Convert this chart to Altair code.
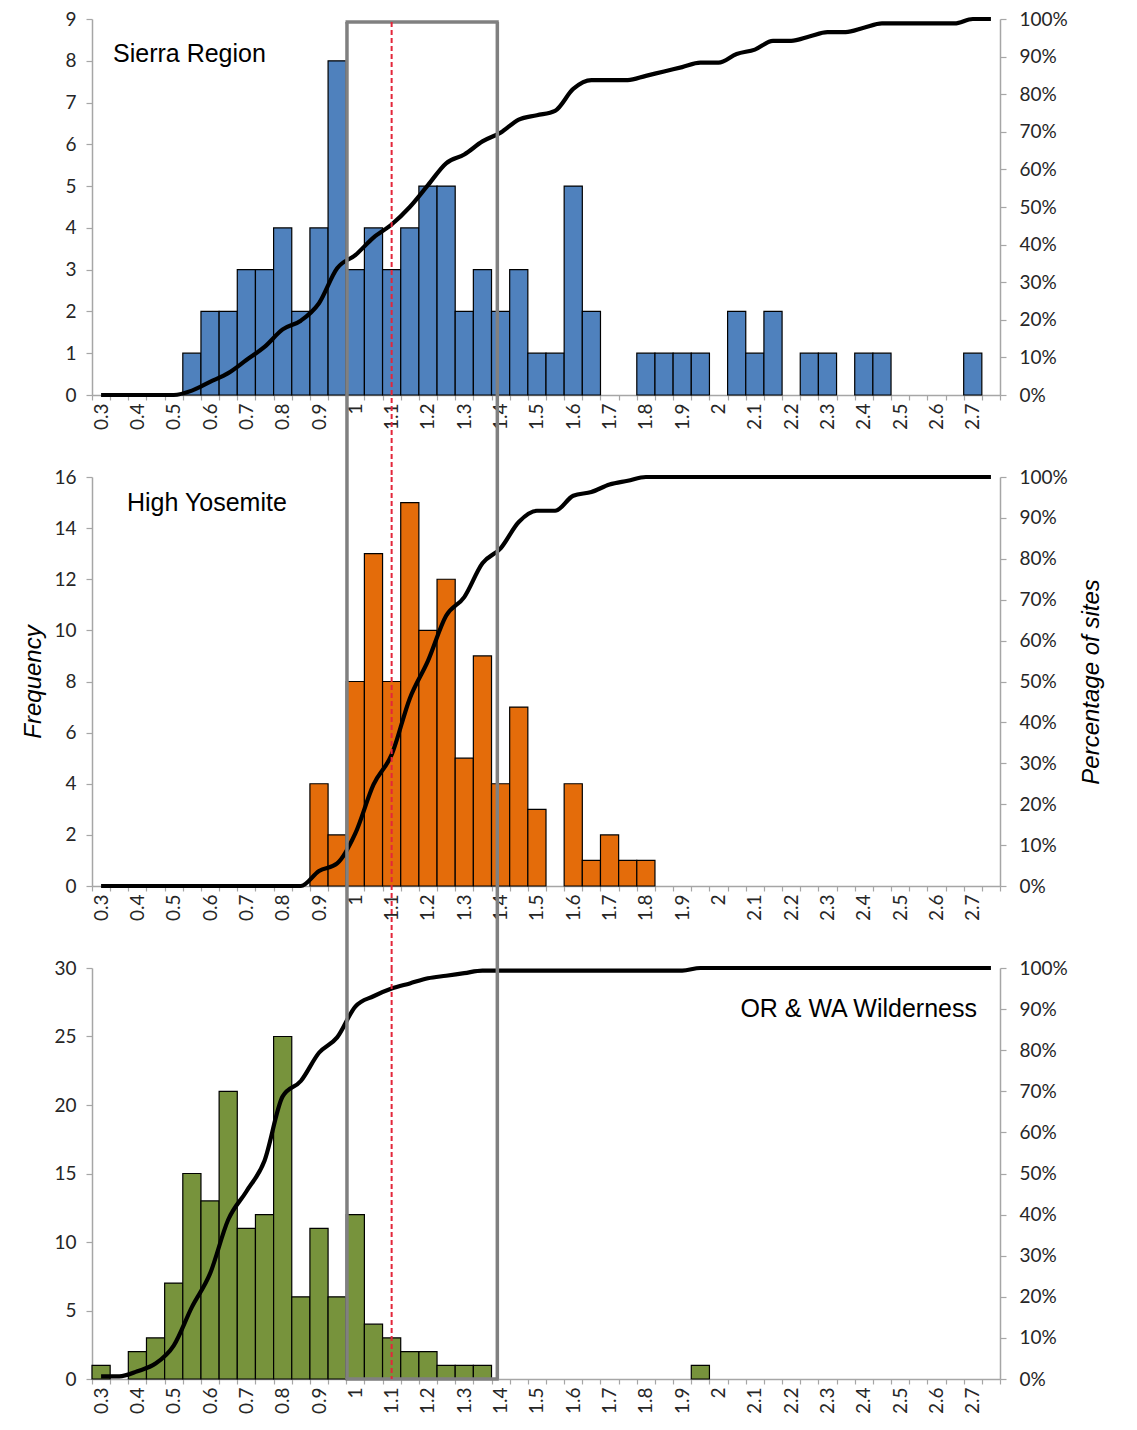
import json
import altair as alt
import pandas as pd

# ---------------- data ----------------
categories = [0.30, 0.35, 0.40, 0.45, 0.50, 0.55, 0.60, 0.65, 0.70, 0.75,
              0.80, 0.85, 0.90, 0.95, 1.00, 1.05, 1.10, 1.15, 1.20, 1.25,
              1.30, 1.35, 1.40, 1.45, 1.50, 1.55, 1.60, 1.65, 1.70, 1.75,
              1.80, 1.85, 1.90, 1.95, 2.00, 2.05, 2.10, 2.15, 2.20, 2.25,
              2.30, 2.35, 2.40, 2.45, 2.50, 2.55, 2.60, 2.65, 2.70, 2.75]
sierra_counts = [0, 0, 0, 0, 0, 1, 2, 2, 3, 3,
                 4, 2, 4, 8, 3, 4, 3, 4, 5, 5,
                 2, 3, 2, 3, 1, 1, 5, 2, 0, 0,
                 1, 1, 1, 1, 0, 2, 1, 2, 0, 1,
                 1, 0, 1, 1, 0, 0, 0, 0, 1, 0]
yosemite_counts = [0, 0, 0, 0, 0, 0, 0, 0, 0, 0,
                   0, 0, 4, 2, 8, 13, 8, 15, 10, 12,
                   5, 9, 4, 7, 3, 0, 4, 1, 2, 1,
                   1, 0, 0, 0, 0, 0, 0, 0, 0, 0,
                   0, 0, 0, 0, 0, 0, 0, 0, 0, 0]
orwa_counts = [1, 0, 2, 3, 7, 15, 13, 21, 11, 12,
               25, 6, 11, 6, 12, 4, 3, 2, 2, 1,
               1, 1, 0, 0, 0, 0, 0, 0, 0, 0,
               0, 0, 0, 1, 0, 0, 0, 0, 0, 0,
               0, 0, 0, 0, 0, 0, 0, 0, 0, 0]
x_tick_labels = ["0.3", "0.4", "0.5", "0.6", "0.7", "0.8", "0.9", "1", "1.1",
                 "1.2", "1.3", "1.4", "1.5", "1.6", "1.7", "1.8", "1.9", "2",
                 "2.1", "2.2", "2.3", "2.4", "2.5", "2.6", "2.7"]
pct_ticks = [0, 0.1, 0.2, 0.3, 0.4, 0.5, 0.6, 0.7, 0.8, 0.9, 1.0]
box_x = [0.977, 1.391]      # grey box edges
threshold_x = [1.10]        # red dashed line

# ---------------- layout ----------------
W = 908
HEIGHTS = [376, 409, 411]
GAP = 82
HALF = 0.025

boundaries = [round(categories[0] - HALF + 0.05 * i, 3) for i in range(len(categories) + 1)]
label_arr = []
for i in range(len(categories) + 1):
    if i % 2 == 0 and i // 2 < len(x_tick_labels):
        label_arr.append(x_tick_labels[i // 2])
    else:
        label_arr.append("")
label_expr = f"{json.dumps(label_arr)}[round((datum.value - {boundaries[0]}) / 0.05)]"

xscale = alt.Scale(domain=[boundaries[0], boundaries[-1]], nice=False, zero=False)
xaxis = alt.Axis(values=boundaries, labelExpr=label_expr, labelAngle=270,
                 labelOffset=W / len(categories) / 2, labelOverlap=False,
                 labelFlush=False, labelPadding=3, tickSize=5, title=None,
                 labelAlign="right", labelBaseline="middle")

AXIS_GREY = "#A6A6A6"
BOX_GREY = "#808080"


def panel(counts, color, ymax, ystep, H, name, name_x, name_y, name_align,
          left_title, right_title, rule_top, rule_bottom, top_edge, bottom_edge):
    df = pd.DataFrame({"cat": categories, "count": counts})
    base = alt.Chart(df).transform_calculate(lo=f"datum.cat - {HALF}", hi=f"datum.cat + {HALF}")

    yaxis_l = alt.Axis(values=list(range(0, ymax + 1, ystep)), orient="left",
                       tickSize=6, labelPadding=10, title=left_title, titlePadding=8)
    bars = base.transform_filter("datum.count > 0").mark_bar(
        color=color, stroke="black", strokeWidth=1.2
    ).encode(
        x=alt.X("lo:Q", scale=xscale, axis=xaxis),
        x2="hi:Q",
        y=alt.Y("count:Q", scale=alt.Scale(domain=[0, ymax], nice=False), axis=yaxis_l),
        y2=alt.datum(0),
    )

    yaxis_r = alt.Axis(values=pct_ticks, orient="right", format=".0%", tickSize=6,
                       labelPadding=13, title=right_title, titleAngle=270,
                       titleBaseline="top", titlePadding=12)
    line = base.transform_window(
        cum="sum(count)", sort=[alt.SortField("cat")], frame=[None, 0]
    ).transform_joinaggregate(total="sum(count)").transform_calculate(
        pct="datum.cum / datum.total"
    ).mark_line(color="black", strokeWidth=4.2, interpolate="monotone").encode(
        x=alt.X("cat:Q", scale=xscale, axis=xaxis),
        y=alt.Y("pct:Q", scale=alt.Scale(domain=[0, 1], nice=False), axis=yaxis_r),
    )

    box_df = pd.DataFrame({"x": box_x})
    vrules = alt.Chart(box_df).mark_rule(color=BOX_GREY, strokeWidth=3.5).encode(
        x=alt.X("x:Q", scale=xscale, axis=xaxis),
        y=alt.value(rule_top), y2=alt.value(rule_bottom),
    )
    layers = [bars, line, vrules]
    edge_df = pd.DataFrame({"x0": [box_x[0] - 0.004], "x1": [box_x[1] + 0.004]})
    if top_edge is not None:
        layers.append(alt.Chart(edge_df).mark_rule(color=BOX_GREY, strokeWidth=3.5).encode(
            x=alt.X("x0:Q", scale=xscale, axis=xaxis), x2="x1:Q", y=alt.value(top_edge)))
    if bottom_edge is not None:
        layers.append(alt.Chart(edge_df).mark_rule(color=BOX_GREY, strokeWidth=3.5).encode(
            x=alt.X("x0:Q", scale=xscale, axis=xaxis), x2="x1:Q", y=alt.value(bottom_edge)))

    red = alt.Chart(pd.DataFrame({"x": threshold_x})).mark_rule(
        color="#E3263A", strokeWidth=2, strokeDash=[5, 3]
    ).encode(
        x=alt.X("x:Q", scale=xscale, axis=xaxis),
        y=alt.value(rule_top), y2=alt.value(rule_bottom),
    )
    layers.append(red)

    label = alt.Chart(pd.DataFrame({"t": [name]})).mark_text(
        font="Liberation Sans", fontSize=25, color="black", align=name_align,
        baseline="alphabetic"
    ).encode(text="t:N", x=alt.value(name_x), y=alt.value(name_y))
    layers.append(label)

    return alt.layer(*layers).resolve_scale(y="independent").properties(width=W, height=H)


p1 = panel(sierra_counts, "#4F81BD", 9, 1, HEIGHTS[0], "Sierra Region", 21, 43, "left",
           None, None, 3, HEIGHTS[0] + GAP, 3, None)
p2 = panel(yosemite_counts, "#E46C0A", 16, 2, HEIGHTS[1], "High Yosemite", 35, 34, "left",
           "Frequency", "Percentage of sites", 0, HEIGHTS[1] + GAP, None, None)
p3 = panel(orwa_counts, "#77933C", 30, 5, HEIGHTS[2], "OR & WA Wilderness", 885, 49, "right",
           None, None, 0, HEIGHTS[2], None, HEIGHTS[2])

chart = alt.vconcat(p1, p2, p3, spacing=GAP, bounds="flush").properties(
    padding={"left": 13, "top": 2, "right": 5, "bottom": 0}
).configure_view(strokeWidth=0).configure_axis(
    labelFont="Lato", labelFontSize=19, labelColor="#262626",
    domainColor=AXIS_GREY, tickColor=AXIS_GREY, domainWidth=1.5, tickWidth=1.2,
    grid=False, titleFont="Liberation Sans", titleFontStyle="italic",
    titleFontWeight="normal", titleFontSize=24, titleColor="black"
)

chart.save("out.html", embed_options={"renderer": "svg", "actions": False})
